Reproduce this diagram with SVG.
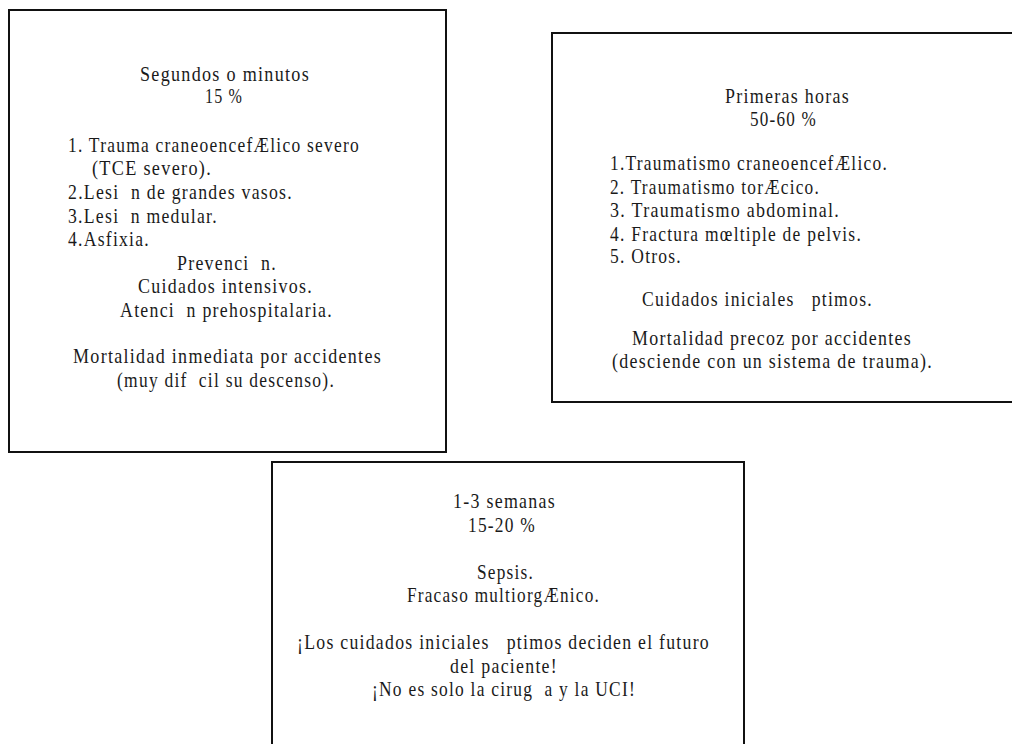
<svg xmlns="http://www.w3.org/2000/svg" width="1012" height="744" viewBox="0 0 1012 744" xml:space="preserve">
<style>
.box{fill:#fff;stroke:#111;stroke-width:2}
.t{font-family:"Liberation Serif","Times New Roman",serif;font-size:21px;fill:#1a1a1a;letter-spacing:1.5px;white-space:pre}
</style>
<rect width="1012" height="744" fill="#fff"/>
<g id="node-segundos">
<rect class="box" x="9" y="10" width="437" height="442"/>
<text class="t" x="140" y="81" textLength="170" lengthAdjust="spacingAndGlyphs">Segundos o minutos</text>
<text class="t" x="205" y="103" textLength="38" lengthAdjust="spacingAndGlyphs">15 %</text>
<text class="t" x="68" y="152" textLength="292" lengthAdjust="spacingAndGlyphs">1. Trauma craneoencefÆlico severo</text>
<text class="t" x="92" y="175" textLength="120" lengthAdjust="spacingAndGlyphs">(TCE severo).</text>
<text class="t" x="68" y="199" textLength="225" lengthAdjust="spacingAndGlyphs">2.Lesi  n de grandes vasos.</text>
<text class="t" x="68" y="223" textLength="150" lengthAdjust="spacingAndGlyphs">3.Lesi  n medular.</text>
<text class="t" x="68" y="246" textLength="82" lengthAdjust="spacingAndGlyphs">4.Asfixia.</text>
<text class="t" x="177" y="270" textLength="100" lengthAdjust="spacingAndGlyphs">Prevenci  n.</text>
<text class="t" x="138" y="293" textLength="175" lengthAdjust="spacingAndGlyphs">Cuidados intensivos.</text>
<text class="t" x="120" y="317" textLength="213" lengthAdjust="spacingAndGlyphs">Atenci  n prehospitalaria.</text>
<text class="t" x="73" y="363" textLength="309" lengthAdjust="spacingAndGlyphs">Mortalidad inmediata por accidentes</text>
<text class="t" x="117" y="387" textLength="218" lengthAdjust="spacingAndGlyphs">(muy dif  cil su descenso).</text>
</g>
<g id="node-primeras">
<rect class="box" x="552" y="33" width="470" height="369"/>
<text class="t" x="725" y="103" textLength="125" lengthAdjust="spacingAndGlyphs">Primeras horas</text>
<text class="t" x="750" y="126" textLength="67" lengthAdjust="spacingAndGlyphs">50-60 %</text>
<text class="t" x="610" y="170" textLength="278" lengthAdjust="spacingAndGlyphs">1.Traumatismo craneoencefÆlico.</text>
<text class="t" x="610" y="194" textLength="210" lengthAdjust="spacingAndGlyphs">2. Traumatismo torÆcico.</text>
<text class="t" x="610" y="217" textLength="230" lengthAdjust="spacingAndGlyphs">3. Traumatismo abdominal.</text>
<text class="t" x="610" y="241" textLength="252" lengthAdjust="spacingAndGlyphs">4. Fractura mœltiple de pelvis.</text>
<text class="t" x="610" y="263" textLength="72" lengthAdjust="spacingAndGlyphs">5. Otros.</text>
<text class="t" x="642" y="306" textLength="231" lengthAdjust="spacingAndGlyphs">Cuidados iniciales   ptimos.</text>
<text class="t" x="632" y="345" textLength="280" lengthAdjust="spacingAndGlyphs">Mortalidad precoz por accidentes</text>
<text class="t" x="612" y="368" textLength="321" lengthAdjust="spacingAndGlyphs">(desciende con un sistema de trauma).</text>
</g>
<g id="node-semanas">
<rect class="box" x="272" y="462" width="472" height="300"/>
<text class="t" x="453" y="508" textLength="103" lengthAdjust="spacingAndGlyphs">1-3 semanas</text>
<text class="t" x="468" y="532" textLength="68" lengthAdjust="spacingAndGlyphs">15-20 %</text>
<text class="t" x="477" y="579" textLength="57" lengthAdjust="spacingAndGlyphs">Sepsis.</text>
<text class="t" x="407" y="602" textLength="193" lengthAdjust="spacingAndGlyphs">Fracaso multiorgÆnico.</text>
<text class="t" x="297" y="649" textLength="413" lengthAdjust="spacingAndGlyphs">¡Los cuidados iniciales   ptimos deciden el futuro</text>
<text class="t" x="450" y="673" textLength="108" lengthAdjust="spacingAndGlyphs">del paciente!</text>
<text class="t" x="372" y="696" textLength="264" lengthAdjust="spacingAndGlyphs">¡No es solo la cirug  a y la UCI!</text>
</g>
<g id="connectors"/>
</svg>
